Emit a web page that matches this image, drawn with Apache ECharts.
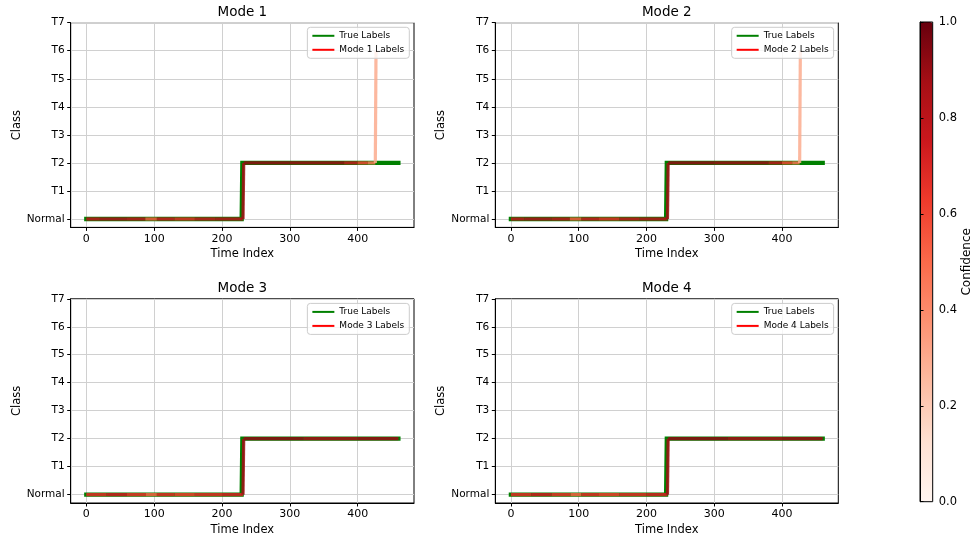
<!DOCTYPE html>
<html><head><meta charset="utf-8">
<script src="https://cdn.jsdelivr.net/npm/echarts@6/dist/echarts.min.js"></script>
<style>html,body{margin:0;padding:0;background:#fff}#c{width:978px;height:544px}</style>
</head><body><div id="c"></div>
<script>
// ---- data ----
var classNames = ['Normal','T1','T2','T3','T4','T5','T6','T7'];
var xTicks = [0,100,200,300,400];
var yTicks = [0,1,2,3,4,5,6,7];
var cbTicks = [0,0.2,0.4,0.6,0.8,1.0];
var modeTitles = ['Mode 1','Mode 2','Mode 3','Mode 4'];
var modeLegend = ['Mode 1 Labels','Mode 2 Labels','Mode 3 Labels','Mode 4 Labels'];

// true labels (vertices of the step line)
var trueX = [0, 229, 230, 460];
var trueClass = [0, 0, 2, 2];

// predicted labels: vertices, class at each vertex, confidence of segment starting at vertex
var mode1X     = [0,    20,   60,   87,   104,  130,  160,  190,  231,  232,  300,  380,  400,  415,  426, 427];
var mode1Class = [0,    0,    0,    0,    0,    0,    0,    0,    0,    2,    2,    2,    2,    2,    2,   6];
var mode1Conf  = [0.8,  0.85, 0.8,  0.55, 0.75, 0.68, 0.78, 0.82, 0.88, 0.92, 0.9,  0.78, 0.6,  0.46, 0.3, 0.3];

var mode2X     = [0,    20,   60,   87,   104,  130,  160,  190,  231,  232,  300,  380,  400,  415,  426, 427];
var mode2Class = [0,    0,    0,    0,    0,    0,    0,    0,    0,    2,    2,    2,    2,    2,    2,   6];
var mode2Conf  = [0.8,  0.85, 0.8,  0.55, 0.75, 0.68, 0.78, 0.82, 0.88, 0.92, 0.9,  0.8,  0.6,  0.48, 0.3, 0.3];

var mode3X     = [0,    30,   60,   88,   104,  130,  160,  200,  231,  232,  320,  400,  460];
var mode3Class = [0,    0,    0,    0,    0,    0,    0,    0,    0,    2,    2,    2,    2];
var mode3Conf  = [0.68, 0.74, 0.66, 0.52, 0.68, 0.62, 0.68, 0.72, 0.88, 0.92, 0.88, 0.9,  0.9];

var mode4X     = [0,    30,   60,   88,   104,  130,  160,  200,  231,  232,  320,  400,  460];
var mode4Class = [0,    0,    0,    0,    0,    0,    0,    0,    0,    2,    2,    2,    2];
var mode4Conf  = [0.68, 0.74, 0.66, 0.52, 0.68, 0.62, 0.68, 0.72, 0.88, 0.92, 0.88, 0.9,  0.9];

var redsColors = ['#fff5f0','#fee0d2','#fcbba1','#fc9272','#fb6a4a','#ef3b2c','#cb181d','#a50f15','#67000d'];

// ---- build ----
var FONT = 'DejaVu Sans';
var modes = [[mode1X,mode1Class,mode1Conf],[mode2X,mode2Class,mode2Conf],[mode3X,mode3Class,mode3Conf],[mode4X,mode4Class,mode4Conf]];
var gridRects = [
  {left:70.7, top:22.7, width:343.3, height:204.7},
  {left:495.3, top:22.7, width:343, height:204.7},
  {left:70.7, top:298.8, width:343.3, height:204.2},
  {left:495.3, top:298.8, width:343, height:204.2}
];
var grids = [], xAxes = [], yAxes = [], series = [], titles = [], legends = [];
gridRects.forEach(function(r, i){
  grids.push({left:r.left, top:r.top, width:r.width, height:r.height, show:true, borderColor:'#000', borderWidth:1, backgroundColor:'transparent', containLabel:false});
  xAxes.push({type:'value', gridIndex:i, min:-23, max:483,
    axisLine:{show:true, onZero:false, lineStyle:{color:'#000', width:1}},
    axisTick:{show:true, customValues:xTicks, length:3.5, lineStyle:{color:'#000'}},
    axisLabel:{customValues:xTicks, fontSize:11, color:'#000', fontFamily:FONT, margin:6},
    splitLine:{show:true, lineStyle:{color:'#d0d0d0', width:1}},
    name:'Time Index', nameLocation:'middle', nameGap:21, nameTextStyle:{fontSize:11.5, color:'#000', fontFamily:FONT}});
  yAxes.push({type:'value', gridIndex:i, min:-0.3, max:7,
    axisLine:{show:true, onZero:false, lineStyle:{color:'#000', width:1}},
    axisTick:{show:true, customValues:yTicks, length:3.5, lineStyle:{color:'#000'}},
    axisLabel:{customValues:yTicks, fontSize:10.5, color:'#000', fontFamily:FONT, margin:6,
      formatter:function(v){ return classNames[Math.round(v)]; }},
    splitLine:{show:true, lineStyle:{color:'#d0d0d0', width:1}},
    name:'Class', nameLocation:'middle', nameRotate:90, nameGap:47, nameTextStyle:{fontSize:11.5, color:'#000', fontFamily:FONT}});
  titles.push({text:modeTitles[i], left:r.left + r.width/2, top:(i<2?5:281), textAlign:'center', padding:0,
    textStyle:{fontSize:13.5, fontWeight:'normal', color:'#000', fontFamily:FONT}});
  legends.push({data:[{name:'True Labels', itemStyle:{color:'#008000'}}, {name:modeLegend[i], itemStyle:{color:'#ff0000'}}],
    orient:'vertical', right:978 - (r.left + r.width) + 4.7, top:r.top + 4.6, align:'left', icon:'rect',
    itemWidth:22, itemHeight:2, itemGap:5, padding:[4,5,4,5], selectedMode:false,
    backgroundColor:'rgba(255,255,255,0.8)', borderColor:'#cccccc', borderWidth:1, borderRadius:3,
    textStyle:{fontSize:9, color:'#000', fontFamily:FONT}});
  var tData = trueX.map(function(x, k){ return [x, trueClass[k]]; });
  series.push({type:'line', name:'True Labels', xAxisIndex:i, yAxisIndex:i, data:tData, symbol:'none',
    lineStyle:{color:'#008000', width:4.3, cap:'square', join:'miter'}, itemStyle:{color:'#008000'}, z:2, silent:true, animation:false});
  var m = modes[i], segs = [];
  for (var k = 0; k < m[0].length - 1; k++) segs.push([m[0][k], m[1][k], m[0][k+1], m[1][k+1], m[2][k]]);
  series.push({type:'custom', name:modeLegend[i], xAxisIndex:i, yAxisIndex:i, data:segs, z:3, silent:true, animation:false,
    encode:{x:[0,2], y:[1,3]},
    renderItem:function(params, api){
      var p0 = api.coord([api.value(0), api.value(1)]);
      var p1 = api.coord([api.value(2), api.value(3)]);
      return {type:'line', shape:{x1:p0[0], y1:p0[1], x2:p1[0], y2:p1[1]},
        style:{stroke:api.visual('color'), lineWidth:3.2, lineCap:'butt', opacity:0.85}};
    }});
});
// colorbar grid
grids.push({left:920, top:22, width:12.7, height:479.7, show:true, borderColor:'#000', borderWidth:1, backgroundColor:'transparent', z:10});
xAxes.push({type:'value', gridIndex:4, show:false, min:0, max:1});
yAxes.push({type:'value', gridIndex:4, min:0, max:1, interval:0.2, position:'right', z:10,
  axisLine:{show:true, lineStyle:{color:'#000', width:1}},
  axisTick:{show:true, length:3.5, lineStyle:{color:'#000'}},
  axisLabel:{customValues:cbTicks, fontSize:11.5, color:'#000', fontFamily:FONT, margin:6, formatter:function(v){ return v.toFixed(1); }},
  splitLine:{show:false},
  name:'Confidence', nameLocation:'middle', nameRotate:90, nameGap:27, nameTextStyle:{fontSize:12, color:'#000', fontFamily:FONT}});

var chart = echarts.init(document.getElementById('c'), null, {renderer:'canvas'});
chart.setOption({
  backgroundColor:'#fff',
  animation:false,
  title:titles,
  legend:legends,
  grid:grids,
  xAxis:xAxes,
  yAxis:yAxes,
  visualMap:{type:'continuous', min:0, max:1, dimension:4, seriesIndex:[1,3,5,7], inRange:{color:redsColors},
    calculable:false, hoverLink:false, left:920, top:22, itemWidth:12.7, itemHeight:479.7, padding:0, z:2, orient:'vertical'},
  series:series
});
</script></body></html>
